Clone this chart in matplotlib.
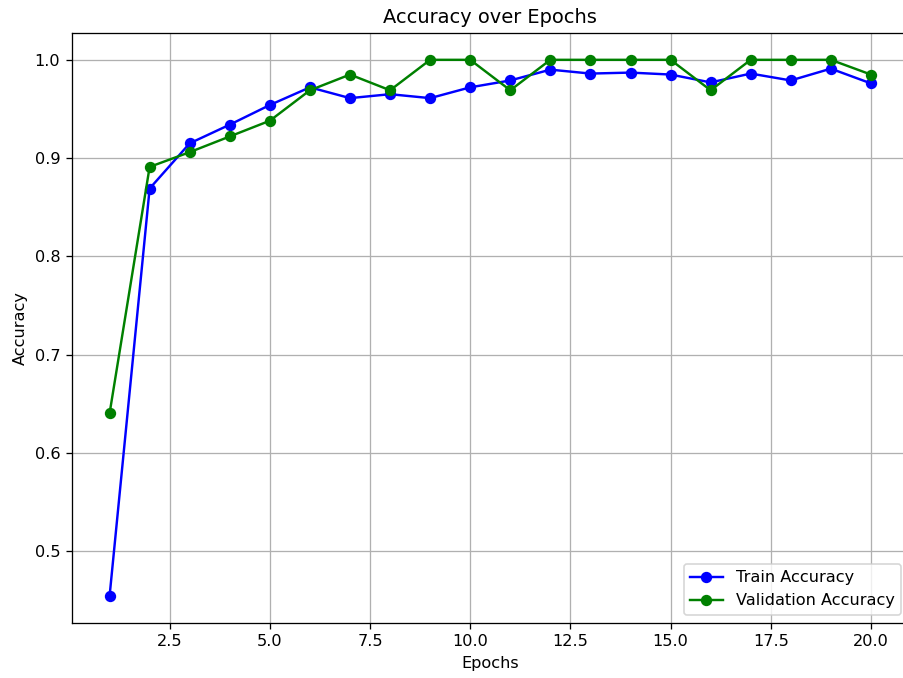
import matplotlib
matplotlib.use("Agg")
import matplotlib.pyplot as plt

# values
epochs = list(range(1, 21))
train_acc = [0.454, 0.869, 0.915, 0.934, 0.954, 0.972, 0.961, 0.965, 0.961, 0.972,
             0.979, 0.990, 0.986, 0.987, 0.985, 0.977, 0.986, 0.979, 0.991, 0.976]
val_acc = [0.640, 0.891, 0.906, 0.922, 0.938, 0.969, 0.985, 0.969, 1.000, 1.000,
           0.969, 1.000, 1.000, 1.000, 1.000, 0.969, 1.000, 1.000, 1.000, 0.985]

# reference looks like a default-style plot rendered a bit larger (~116 dpi)
DPI = 116.5
fig = plt.figure(figsize=(903 / DPI, 678 / DPI), dpi=DPI)
# the reference is cropped on the right, so the axes run slightly past the edge
ax = fig.add_axes([71.5 / 903, 55 / 678, (909 - 71.5) / 903, (623 - 33) / 678])

ax.plot(epochs, train_acc, 'o-', color='blue', label='Train Accuracy')
ax.plot(epochs, val_acc, 'o-', color='green', label='Validation Accuracy')

ax.set_title('Accuracy over Epochs')
ax.set_xlabel('Epochs')
ax.set_ylabel('Accuracy')
ax.legend(loc='lower right')
ax.grid(True)

fig.savefig('out.png', dpi=DPI)
